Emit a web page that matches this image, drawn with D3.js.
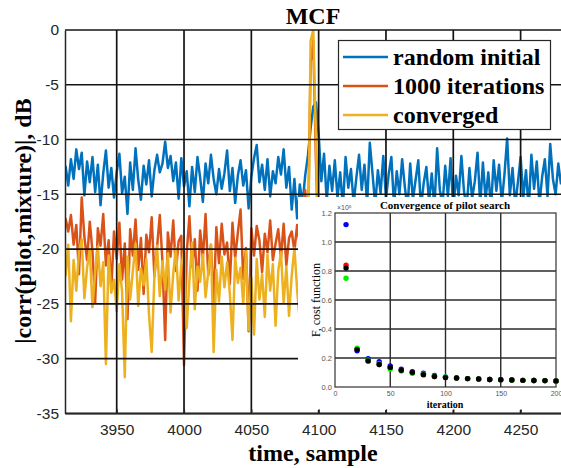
<!DOCTYPE html>
<html>
<head>
<meta charset="utf-8">
<script src="https://cdn.jsdelivr.net/npm/d3@7"></script>
<style>
  body { margin: 0; background: #fff; }
  svg { display: block; }
</style>
</head>
<body>
<div id="chart"></div>
<script>
const sampleStart = 3912;
const sampleStep = 2;

// |corr(pilot,mixture)| in dB, random initial pilot (3912 .. 4280)
const randomInitial = [
  -12.4,-14.2,-11.8,-13.6,-10.9,-12.7,-11.2,-15.1,-12.0,-13.9,
  -11.6,-14.8,-12.3,-16.0,-13.1,-11.0,-14.4,-12.6,-15.3,-13.0,
  -11.3,-14.9,-13.4,-16.8,-12.1,-14.6,-10.8,-13.7,-15.5,-12.4,
  -14.1,-11.9,-15.2,-12.8,-11.4,-13.0,-12.2,-10.2,-12.6,-11.5,
  -13.8,-12.1,-15.4,-11.7,-14.3,-12.9,-16.1,-12.5,-14.8,-11.6,
  -13.5,-15.7,-12.2,-14.0,-11.4,-13.6,-15.0,-12.7,-14.5,-13.1,
  -11.0,-14.7,-12.6,-15.8,-13.3,-11.9,-14.2,-12.8,-16.3,-13.4,
  -11.7,-10.5,-13.9,-12.3,-14.6,-11.8,-15.2,-12.9,-14.0,-11.6,
  -13.2,-10.9,-14.4,-12.5,-16.4,-13.6,-17.2,-14.1,-15.9,-13.3,
  -11.5,-9.0,-7.0,-6.6,-9.5,-13.8,-11.3,-15.6,-12.4,-14.7,
  -11.9,-15.3,-13.0,-16.2,-11.6,-14.4,-12.7,-15.8,-13.5,-11.4,
  -14.6,-12.3,-15.9,-10.3,-13.1,-16.0,-12.8,-14.9,-11.5,-15.4,
  -13.2,-11.6,-16.1,-12.9,-15.0,-11.8,-14.3,-16.4,-12.2,-15.5,
  -13.7,-11.9,-16.2,-14.0,-12.5,-15.7,-13.1,-16.3,-10.8,-14.6,
  -16.0,-12.4,-15.2,-11.7,-16.5,-13.3,-15.1,-11.5,-14.8,-16.2,
  -12.6,-15.4,-13.8,-11.2,-16.0,-12.1,-15.5,-13.0,-16.3,-11.9,
  -14.7,-12.3,-15.8,-13.2,-9.9,-15.1,-12.6,-16.0,-13.9,-11.6,
  -15.3,-12.8,-16.4,-11.4,-14.5,-12.0,-15.9,-13.4,-11.8,-15.2,
  -10.4,-13.6,-15.0,-12.2,-14.1
];

// after 1000 iterations (3912 .. 4100, the rest is under the inset)
const iter1000 = [
  -17.2,-18.4,-16.9,-19.6,-17.8,-22.3,-15.3,-18.9,-21.0,-17.5,
  -20.2,-24.9,-18.1,-19.7,-16.8,-21.5,-19.2,-23.6,-18.4,-20.9,
  -17.6,-22.8,-19.5,-26.4,-18.2,-20.6,-17.3,-21.9,-19.0,-24.1,
  -18.7,-20.3,-17.1,-22.5,-19.8,-16.9,-21.2,-28.3,-18.5,-20.7,
  -17.4,-22.0,-19.3,-18.8,-30.6,-20.4,-17.0,-21.6,-19.1,-23.8,
  -18.3,-20.9,-16.8,-22.4,-19.6,-25.1,-18.0,-21.3,-17.7,-20.5,
  -19.4,-23.2,-17.6,-20.8,-18.5,-16.4,-22.7,-19.9,-27.5,-18.1,
  -20.6,-17.9,-19.2,-22.1,-18.6,-20.3,-17.4,-21.0,-19.5,-18.2,
  -20.8,-17.7,-21.5,-19.0,-18.4,-20.2,-17.8,-19.6,-16.0,-14.6,
  -19.5,-3.0,-1.0,-12.0,-20.5
];

// converged pilot (3912 .. 4100)
const converged = [
  -22.5,-19.6,-26.6,-21.0,-23.8,-20.2,-19.1,-24.5,-21.7,-20.0,
  -25.3,-22.1,-19.8,-23.4,-21.2,-30.5,-20.6,-24.0,-22.8,-25.7,
  -21.4,-23.9,-31.7,-20.7,-24.6,-22.0,-19.5,-25.2,-21.8,-23.3,
  -20.9,-26.0,-29.4,-22.5,-19.7,-24.3,-21.1,-23.7,-20.4,-25.8,
  -22.2,-19.9,-24.7,-21.5,-20.3,-27.2,-22.9,-19.4,-25.5,-21.6,
  -23.0,-20.5,-24.4,-22.1,-19.6,-29.4,-21.9,-24.8,-20.7,-23.5,
  -21.2,-24.0,-28.3,-20.8,-23.1,-21.7,-25.0,-20.2,-27.4,-22.6,
  -27.8,-20.9,-24.6,-22.3,-26.2,-20.5,-23.8,-21.4,-27.0,-22.0,
  -20.3,-24.9,-21.6,-26.1,-22.4,-19.9,-23.7,-26.6,-21.0,-19.2,
  -22.0,-1.0,0,-10.0,-22.5
];

const seriesNames = ['random initial', '1000 iterations', 'converged'];
const seriesColors = ['#0072BD', '#D95319', '#EDB120'];

const xTicks = [3950, 4000, 4050, 4100, 4150, 4200, 4250];
const yTicks = [0, -5, -10, -15, -20, -25, -30, -35];

// Inset: convergence of the pilot search (cost, x10^5)
const iterations = [10, 20, 30, 40, 50, 60, 70, 80, 90, 100, 110, 120, 130, 140, 150, 160, 170, 180, 190, 200];
const costBlue  = [1.12, 0.25, 0.195, 0.175, 0.145, 0.122, 0.105, 0.095, 0.08, 0.07, 0.062, 0.058, 0.055, 0.052, 0.05, 0.048, 0.046, 0.045, 0.044, 0.042];
const costRed   = [0.84, 0.26, 0.18, 0.155, 0.135, 0.115, 0.1, 0.085, 0.072, 0.065, 0.062, 0.058, 0.055, 0.052, 0.05, 0.048, 0.046, 0.045, 0.044, 0.042];
const costGreen = [0.75, 0.268, 0.185, 0.16, 0.125, 0.11, 0.095, 0.088, 0.074, 0.07, 0.062, 0.058, 0.055, 0.052, 0.05, 0.047, 0.046, 0.045, 0.043, 0.042];
const costBlack = [0.82, 0.258, 0.18, 0.155, 0.135, 0.115, 0.1, 0.085, 0.072, 0.065, 0.062, 0.058, 0.055, 0.052, 0.05, 0.048, 0.046, 0.045, 0.044, 0.042];
const insetXTicks = [0, 50, 100, 150, 200];
const insetYTicks = [0, 0.2, 0.4, 0.6, 0.8, 1, 1.2];

const serif = '"Liberation Serif", "Times New Roman", serif';
const sans = '"Liberation Sans", Arial, sans-serif';

let dim = { width: 561, height: 468 };
let plot = { left: 65, right: 561, top: 30, bottom: 413.3 };

let svg = d3.select('#chart').append('svg')
    .attr('width', dim.width)
    .attr('height', dim.height);

// Scales of the main plot
let x = d3.scaleLinear().domain([3911.6, 4280]).range([plot.left, plot.right]);
let y = d3.scaleLinear().domain([-35, 0]).range([plot.bottom, plot.top]);

svg.append('clipPath').attr('id', 'clip')
    .append('rect')
    .attr('x', plot.left).attr('y', plot.top)
    .attr('width', plot.right - plot.left).attr('height', plot.bottom - plot.top);

// turn the value arrays into [sample, dB] pairs
const toPoints = vals => vals.map((v, i) => [sampleStart + i * sampleStep, v]);
const allSeries = [randomInitial, iter1000, converged].map(toPoints);

let line = d3.line().x(d => x(d[0])).y(d => y(d[1]));

// lines are drawn last-on-top: converged over 1000 iterations over random
svg.append('g')
    .attr('clip-path', 'url(#clip)')
    .selectAll('path')
    .data(allSeries)
    .join('path')
    .attr('d', line)
    .attr('fill', 'none')
    .attr('stroke', (d, i) => seriesColors[i])
    .attr('stroke-width', 2.5)
    .attr('stroke-linejoin', 'round');

// grid on top of the data (MATLAB layer 'top')
let grid = svg.append('g').attr('stroke', '#141414').attr('stroke-width', 1.7);
grid.selectAll('.gx')
    .data(xTicks)
    .join('line')
    .attr('x1', d => x(d)).attr('x2', d => x(d))
    .attr('y1', plot.top).attr('y2', plot.bottom);
grid.selectAll('.gy')
    .data(yTicks)
    .join('line')
    .attr('x1', plot.left).attr('x2', plot.right)
    .attr('y1', d => y(d)).attr('y2', d => y(d));

// left axis with labels (plain hyphen minus like MATLAB)
svg.append('g')
    .attr('transform', `translate(${plot.left},0)`)
    .call(d3.axisLeft(y).tickValues(yTicks).tickSize(0).tickPadding(6).tickFormat(d => String(d)))
    .call(g => g.select('.domain').attr('stroke', '#262626').attr('stroke-width', 1.5))
    .call(g => g.selectAll('text')
        .attr('fill', '#262626')
        .style('font-family', sans)
        .style('font-size', '15.5px'));

// MCF title and axis labels
svg.append('text')
    .attr('x', 313).attr('y', 24)
    .attr('text-anchor', 'middle')
    .style('font-family', serif).style('font-weight', 'bold').style('font-size', '24px')
    .text('MCF');

svg.append('text')
    .attr('transform', 'translate(31,221) rotate(-90)')
    .attr('text-anchor', 'middle')
    .style('font-family', serif).style('font-weight', 'bold').style('font-size', '24px')
    .text('|corr(pilot,mixture)|, dB');

svg.append('text')
    .attr('x', 313).attr('y', 461)
    .attr('text-anchor', 'middle')
    .style('font-family', serif).style('font-weight', 'bold').style('font-size', '24px')
    .text('time, sample');

// Legend
let legend = svg.append('g');
legend.append('rect')
    .attr('x', 338.5).attr('y', 40.5)
    .attr('width', 212).attr('height', 89)
    .attr('fill', '#fff').attr('stroke', '#262626').attr('stroke-width', 1.2);
let legendRows = legend.selectAll('.row')
    .data(seriesNames)
    .join('g')
    .attr('transform', (d, i) => `translate(0,${[57, 86, 115][i]})`);
legendRows.append('line')
    .attr('x1', 343).attr('x2', 388)
    .attr('stroke', (d, i) => seriesColors[i])
    .attr('stroke-width', 2.5);
legendRows.append('text')
    .attr('x', 393).attr('y', 7.5)
    .style('font-family', serif).style('font-weight', 'bold').style('font-size', '24px')
    .text(d => d);

// ---------- inset ----------
let ix = d3.scaleLinear().domain([0, 200]).range([335, 556]);
let iy = d3.scaleLinear().domain([0, 1.2]).range([387, 213]);

let inset = svg.append('g');
inset.append('rect')
    .attr('x', 298).attr('y', 197)
    .attr('width', dim.width - 298).attr('height', 213)
    .attr('fill', '#fff');

let igrid = inset.append('g').attr('stroke', '#2a2a2a').attr('stroke-width', 1.4);
igrid.selectAll('.vx')
    .data(insetXTicks.slice(1, -1))
    .join('line')
    .attr('x1', d => ix(d)).attr('x2', d => ix(d))
    .attr('y1', iy(1.2)).attr('y2', iy(0));
igrid.selectAll('.hy')
    .data(insetYTicks.slice(1, -1))
    .join('line')
    .attr('x1', ix(0)).attr('x2', ix(200))
    .attr('y1', d => iy(d)).attr('y2', d => iy(d));
inset.append('rect')
    .attr('x', ix(0)).attr('y', iy(1.2))
    .attr('width', ix(200) - ix(0)).attr('height', iy(0) - iy(1.2))
    .attr('fill', 'none').attr('stroke', '#333').attr('stroke-width', 1.2);

inset.append('g')
    .attr('transform', `translate(0,${iy(0)})`)
    .call(d3.axisBottom(ix).tickValues(insetXTicks).tickSize(0).tickPadding(4))
    .call(g => g.select('.domain').remove())
    .call(g => g.selectAll('text').attr('fill', '#555').style('font-family', sans).style('font-size', '7px'));
inset.append('g')
    .attr('transform', `translate(${ix(0)},0)`)
    .call(d3.axisLeft(iy).tickValues(insetYTicks).tickSize(0).tickPadding(3))
    .call(g => g.select('.domain').remove())
    .call(g => g.selectAll('text').attr('fill', '#555').style('font-family', sans).style('font-size', '7.5px'));

inset.append('text')
    .attr('x', ix(0) + 2).attr('y', iy(1.2) - 3)
    .attr('fill', '#555')
    .style('font-family', sans).style('font-size', '7px')
    .text('×10⁵');

inset.append('text')
    .attr('x', 445).attr('y', 209)
    .attr('text-anchor', 'middle')
    .style('font-family', serif).style('font-weight', 'bold').style('font-size', '11px')
    .text('Convergence of pilot search');
inset.append('text')
    .attr('x', 445).attr('y', 408)
    .attr('text-anchor', 'middle')
    .style('font-family', serif).style('font-weight', 'bold').style('font-size', '10px')
    .text('iteration');
inset.append('text')
    .attr('transform', 'translate(320,300) rotate(-90)')
    .attr('text-anchor', 'middle')
    .style('font-family', serif).style('font-size', '12px')
    .text('F, cost function');

const costSeries = [
    { vals: costBlue, color: '#0000ff' },
    { vals: costRed, color: '#ff0000' },
    { vals: costGreen, color: '#00ee00' },
    { vals: costBlack, color: '#000000' }
];
inset.selectAll('.dots')
    .data(costSeries)
    .join('g')
    .attr('fill', d => d.color)
    .selectAll('circle')
    .data(d => d.vals.map((v, i) => [iterations[i], v]))
    .join('circle')
    .attr('cx', d => ix(d[0]))
    .attr('cy', d => iy(d[1]))
    .attr('r', 2.7);

// bottom axis of the main plot, above the inset
svg.append('g')
    .attr('transform', `translate(0,${plot.bottom})`)
    .call(d3.axisBottom(x).tickValues(xTicks).tickSizeInner(-4).tickSizeOuter(0).tickPadding(11).tickFormat(d3.format('d')))
    .call(g => g.select('.domain').attr('stroke', '#262626').attr('stroke-width', 1.5))
    .call(g => g.selectAll('.tick line').attr('stroke', '#262626').attr('stroke-width', 1.2))
    .call(g => g.selectAll('text')
        .attr('fill', '#262626')
        .style('font-family', sans)
        .style('font-size', '15.5px'));
</script>
</body>
</html>
